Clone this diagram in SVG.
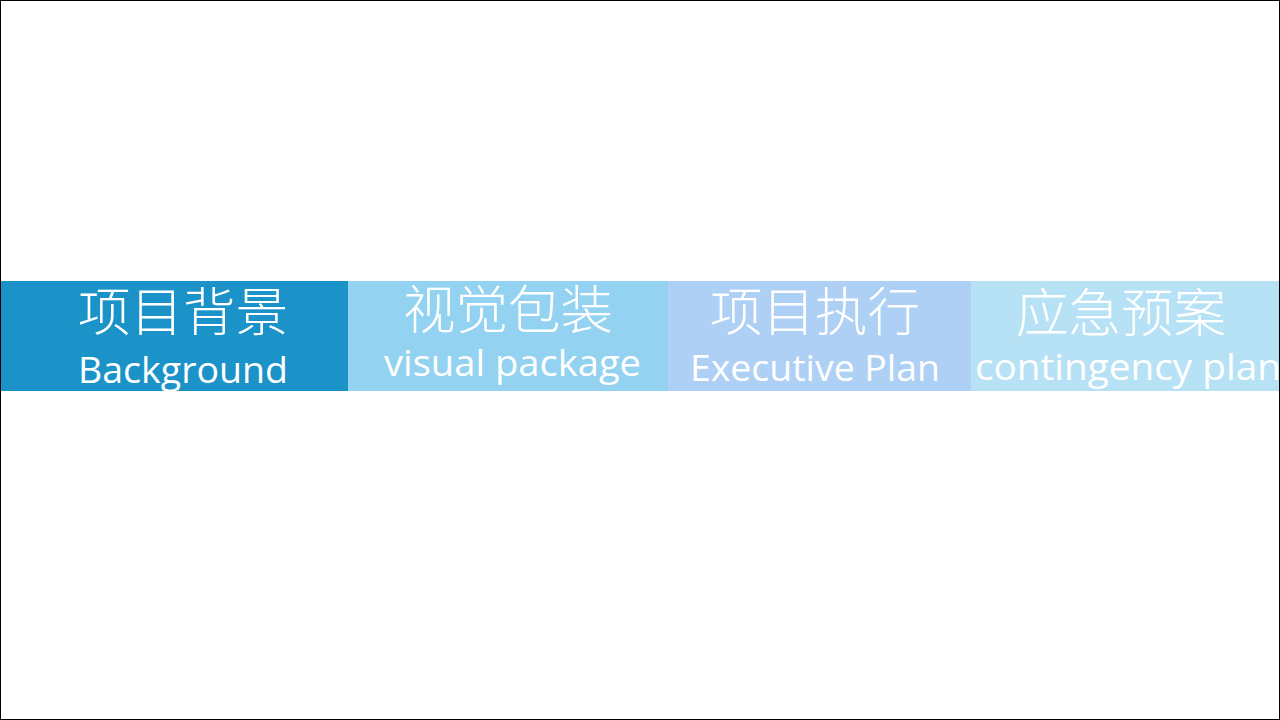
<svg xmlns="http://www.w3.org/2000/svg" width="1280" height="720" viewBox="0 0 1280 720">
<style>
.zh{font-family:"Noto Sans CJK SC","Noto Sans",sans-serif;font-size:52px;font-weight:300;fill:#ffffff}
.en{font-family:"Open Sans","Noto Sans",sans-serif;font-size:37px;fill:#ffffff}
</style>
<defs><clipPath id="c"><rect x="0" y="0" width="1279" height="720"/></clipPath></defs>
<rect x="0.5" y="0.5" width="1279" height="719" fill="#ffffff" stroke="#000000" stroke-width="1"/>
<g id="node-background">
<rect x="1" y="281" width="347" height="110" fill="#1b93c8"/>
<text class="zh" x="78" y="331" textLength="210" lengthAdjust="spacingAndGlyphs">项目背景</text>
<text class="en" x="78" y="383" textLength="210" lengthAdjust="spacingAndGlyphs">Background</text>
</g>
<g id="node-visual">
<rect x="348" y="281" width="320" height="110" fill="#93d2f0"/>
<text class="zh" x="403" y="329" textLength="210" lengthAdjust="spacingAndGlyphs">视觉包装</text>
<text class="en" x="384" y="376" textLength="257" lengthAdjust="spacingAndGlyphs">visual package</text>
</g>
<g id="node-executive">
<rect x="668" y="281" width="303" height="110" fill="#aed0f5"/>
<text class="zh" x="710" y="331" textLength="210" lengthAdjust="spacingAndGlyphs">项目执行</text>
<text class="en" x="690" y="381" textLength="250" lengthAdjust="spacingAndGlyphs">Executive Plan</text>
</g>
<g id="node-contingency" clip-path="url(#c)">
<rect x="971" y="281" width="308" height="110" fill="#b7e2f5"/>
<text class="zh" x="1016" y="332" textLength="210" lengthAdjust="spacingAndGlyphs">应急预案</text>
<text class="en" x="975" y="380" textLength="306" lengthAdjust="spacingAndGlyphs">contingency plan</text>
</g>
<g id="connectors"/>
</svg>
